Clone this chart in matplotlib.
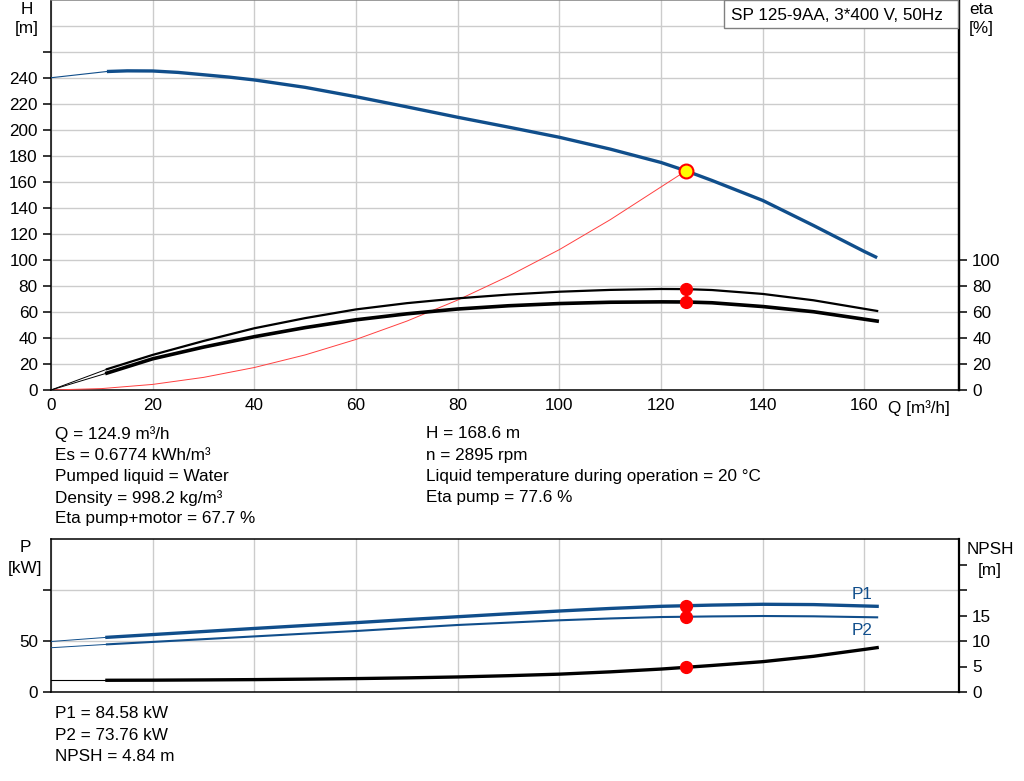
"""Pump curve sheet: SP 125-9AA duty point, head/eta on top, power/NPSH below."""

import matplotlib
matplotlib.use("Agg")
import matplotlib.pyplot as plt
from matplotlib.patches import Rectangle

plt.rcParams["font.family"] = ["Liberation Sans", "DejaVu Sans"]
plt.rcParams["font.size"] = 12.3

BLUE = "#104e8b"
GRID = "#cccccc"

# head curve (first segment is the thin extrapolated part)
q_head = [0, 11, 15, 20, 25, 30, 35, 40, 50, 60, 70, 80, 90, 100, 110, 120,
          124.9, 130, 140, 150, 160, 162.5]
head = [240.2, 245, 245.5, 245.4, 244.3, 242.5, 240.7, 238.5, 232.8, 225.6, 217.8,
        209.8, 202.2, 194.4, 185.3, 175.0, 168.6, 161.2, 145.8, 126.5, 106.5, 101.8]

# system curve through the duty point
q_sys = [0, 10, 20, 30, 40, 50, 60, 70, 80, 90, 100, 110, 124.9]
h_sys = [0, 1.1, 4.3, 9.7, 17.3, 27, 38.9, 53, 69.2, 87.6, 108, 131, 168.6]

# efficiencies
q_eta = [0, 11, 20, 30, 40, 50, 60, 70, 80, 90, 100, 110, 120, 124.9, 130, 140, 150, 162.5]
eta_pump = [0, 16, 27, 37.7, 47.5, 55.3, 62, 66.8, 70.5, 73.4, 75.6, 77, 77.7, 77.6,
            76.9, 73.9, 69, 60.8]
eta_total = [0, 13, 24, 33, 41, 48, 54, 58.6, 62.3, 64.8, 66.5, 67.5, 67.8, 67.7,
             67.1, 64.2, 60.2, 53]

# power
q_pow = [0, 11, 20, 30, 40, 50, 60, 70, 80, 90, 100, 110, 120, 124.9, 130, 140, 150, 162.5]
p1 = [49.5, 53.6, 56.3, 59.3, 62.3, 65.2, 68, 71, 73.8, 76.7, 79.4, 81.9, 84, 84.58,
      85.2, 86, 85.7, 84]
p2 = [43.4, 46.7, 49.1, 51.8, 54.5, 57.2, 59.8, 62.8, 65.7, 68, 70.3, 72.1, 73.5, 73.76,
      74.1, 74.5, 74.2, 73.2]

# NPSH
q_npsh = [0, 11, 20, 30, 40, 50, 60, 70, 80, 90, 100, 110, 120, 124.9, 130, 140, 150,
          160, 162.5]
npsh = [2.3, 2.3, 2.32, 2.37, 2.43, 2.52, 2.63, 2.77, 2.95, 3.2, 3.5, 3.95, 4.5, 4.84,
        5.2, 5.95, 7.0, 8.35, 8.7]

duty_q, duty_h = 124.9, 168.6
duty_eta = [77.6, 67.7]
duty_p = [84.58, 73.76]
duty_npsh = 4.84

info_left = ["Q = 124.9 m³/h", "Es = 0.6774 kWh/m³", "Pumped liquid = Water",
             "Density = 998.2 kg/m³", "Eta pump+motor = 67.7 %"]
info_mid = ["H = 168.6 m", "n = 2895 rpm",
            "Liquid temperature during operation = 20 °C", "Eta pump = 77.6 %"]
info_bottom = ["P1 = 84.58 kW", "P2 = 73.76 kW", "NPSH = 4.84 m"]

W, H = 1024, 781
XMAX = 178.6


def fx(x):
    return x / W


def fy(y):
    return 1 - y / H


def style_axes(a):
    a.set_xlim(0, XMAX)
    a.set_xticks(range(0, 161, 20))
    a.grid(axis="x", color=GRID, lw=1)
    a.set_axisbelow(True)
    for s in a.spines.values():
        s.set_linewidth(1.1)
    a.tick_params(axis="x", length=0)
    a.tick_params(axis="y", length=6, width=1.1)


fig = plt.figure(figsize=(W / 100, H / 100), dpi=100)

# ---- top: head + efficiency
ax = fig.add_axes([fx(51), fy(390), 908 / W, 390 / H])
style_axes(ax)
ax.set_ylim(0, 300)
ax.set_yticks(range(0, 261, 20))
ax.set_yticklabels([str(v) if v <= 240 else "" for v in range(0, 261, 20)])
for v in range(20, 300, 20):
    ax.axhline(v, color=GRID, lw=1, zorder=0)
ax.spines["top"].set_color("#808080")
ax.spines["right"].set_linewidth(1.6)
ax.tick_params(axis="x", pad=6)

ax.plot(q_sys, h_sys, color="#ff4040", lw=0.7, zorder=3)
ax.plot(q_head[:2], head[:2], color=BLUE, lw=0.8, zorder=4)
ax.plot(q_head[1:], head[1:], color=BLUE, lw=2.4, zorder=4, solid_capstyle="butt")
ax.plot(q_eta[:2], eta_pump[:2], color="black", lw=0.7, zorder=4)
ax.plot(q_eta[:2], eta_total[:2], color="black", lw=0.7, zorder=4)
ax.plot(q_eta[1:], eta_pump[1:], color="black", lw=1.6, zorder=4)
ax.plot(q_eta[1:], eta_total[1:], color="black", lw=2.6, zorder=4)
ax.plot([duty_q] * 2, duty_eta, "o", color="#ff0000", ms=8.5, zorder=5)
ax.plot(duty_q, duty_h, "o", mfc="#ffff00", mec="#ff0000", mew=1.5, ms=10, zorder=6)

ax2 = ax.twinx()
ax2.set_ylim(0, 300)
ax2.set_yticks(range(0, 101, 20))
ax2.tick_params(axis="y", length=6, width=1.1)
ax2.spines["right"].set_linewidth(1.6)
for s in ["left", "top", "bottom"]:
    ax2.spines[s].set_visible(False)

fig.text(fx(888), fy(408), "Q [m³/h]", ha="left", va="center")
fig.text(fx(27), fy(9), "H", ha="center", va="center")
fig.text(fx(27), fy(29), "[m]", ha="center", va="center")
fig.text(fx(981), fy(10), "eta", ha="center", va="center")
fig.text(fx(981), fy(29), "[%]", ha="center", va="center")
fig.patches.append(Rectangle((fx(724), fy(28)), 234 / W, 28 / H, transform=fig.transFigure,
                             fc="white", ec="#808080", lw=1, zorder=10))
fig.text(fx(731), fy(15), "SP 125-9AA, 3*400 V, 50Hz", ha="left", va="center", zorder=11)

for i, s in enumerate(info_left):
    fig.text(fx(55), fy(434 + 21.2 * i), s, ha="left", va="center")
for i, s in enumerate(info_mid):
    fig.text(fx(426), fy(434 + 21.2 * i), s, ha="left", va="center")

# ---- bottom: power + NPSH
bx = fig.add_axes([fx(51), fy(692), 908 / W, (692 - 539) / H])
style_axes(bx)
bx.set_xticklabels([])
bx.set_ylim(0, 150)
bx.set_yticks([0, 50, 100])
bx.set_yticklabels(["0", "50", ""])
bx.grid(axis="y", color=GRID, lw=1)

bx.plot(q_pow[:2], p1[:2], color=BLUE, lw=0.7, zorder=4)
bx.plot(q_pow[:2], p2[:2], color=BLUE, lw=0.7, zorder=4)
bx.plot(q_pow[1:], p1[1:], color=BLUE, lw=2.4, zorder=4)
bx.plot(q_pow[1:], p2[1:], color=BLUE, lw=1.5, zorder=4)
bx.plot([duty_q] * 2, duty_p, "o", color="#ff0000", ms=8.5, zorder=5)
bx.text(157.5, 96, "P1", color=BLUE, ha="left", va="center")
bx.text(157.5, 60, "P2", color=BLUE, ha="left", va="center")

bx2 = bx.twinx()
bx2.set_ylim(0, 30)
bx2.set_yticks(range(0, 26, 5))
bx2.set_yticklabels([str(v) if v <= 15 else "" for v in range(0, 26, 5)])
bx2.tick_params(axis="y", length=6, width=1.1)
bx2.spines["right"].set_linewidth(1.6)
for s in ["left", "top", "bottom"]:
    bx2.spines[s].set_visible(False)
bx2.plot(q_npsh[:2], npsh[:2], color="black", lw=0.8, zorder=4)
bx2.plot(q_npsh[1:], npsh[1:], color="black", lw=2.4, zorder=4)
bx2.plot(duty_q, duty_npsh, "o", color="#ff0000", ms=8.5, zorder=5)

fig.text(fx(25), fy(548), "P", ha="center", va="center")
fig.text(fx(25), fy(569), "[kW]", ha="center", va="center")
fig.text(fx(990), fy(549), "NPSH", ha="center", va="center")
fig.text(fx(990), fy(571), "[m]", ha="center", va="center")

for i, s in enumerate(info_bottom):
    fig.text(fx(55), fy(714 + 21.2 * i), s, ha="left", va="center")

fig.savefig("out.png", dpi=100)
